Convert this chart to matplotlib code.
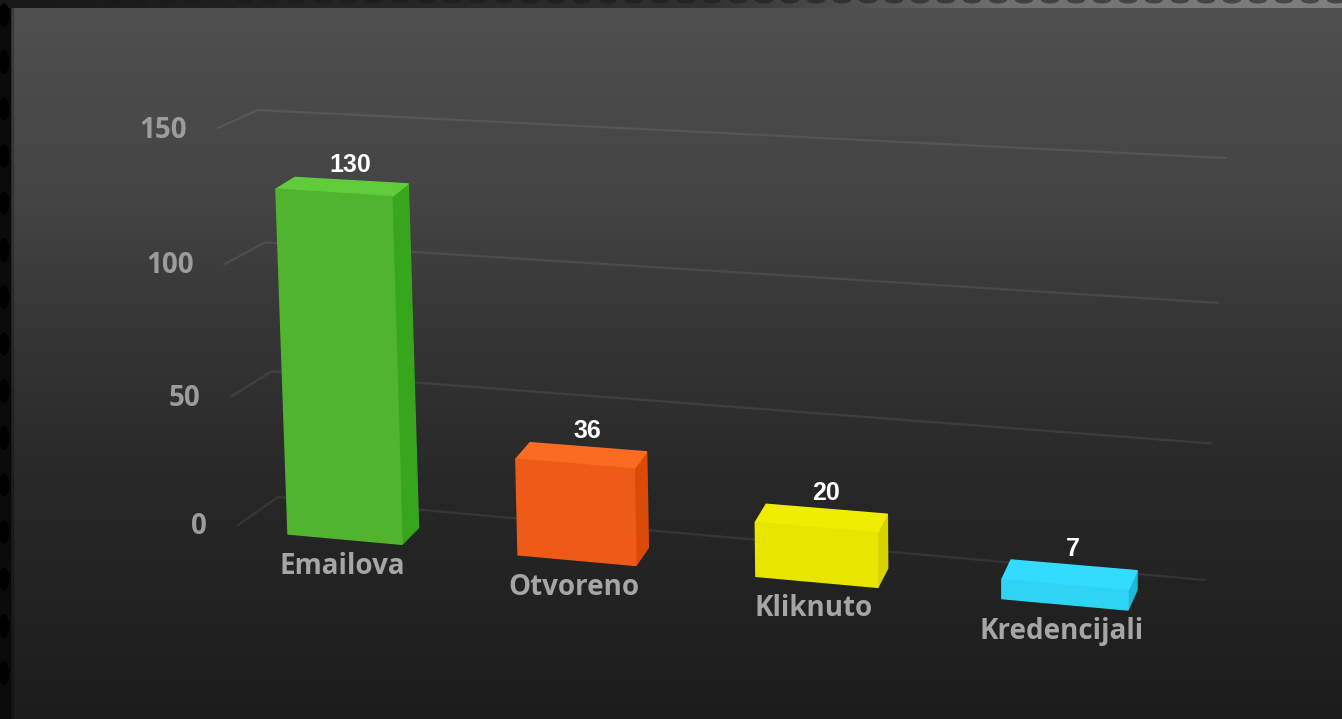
import numpy as np
import matplotlib
matplotlib.use("Agg")
import matplotlib.pyplot as plt
from matplotlib.patches import Polygon, Rectangle, Ellipse
from matplotlib.transforms import Transform

categories = ["Emailova", "Otvoreno", "Kliknuto", "Kredencijali"]
values = [130, 36, 20, 7]
ticks = [0, 50, 100, 150]

front_colors = ["#50b42e", "#ee5a18", "#e8e500", "#2fd4f4"]
top_colors = ["#60cc3c", "#fb6c20", "#f0ee00", "#33dcff"]
side_colors = ["#38a61c", "#dc4a08", "#d6d200", "#1cb9d8"]

W, H = 1342, 719
half_bar = 0.25
x_lo, x_hi = -0.75, 3.75
v_lo, v_hi = 0, 150


class Plane(Transform):
    """Perspective map from (category position, value) to pixels, fitted on four corners."""
    input_dims = 2
    output_dims = 2

    def __init__(self, x0, x1, p00, p10, p11, p01):
        super().__init__()
        src = [(x0, v_lo), (x1, v_lo), (x1, v_hi), (x0, v_hi)]
        dst = [p00, p10, p11, p01]
        A, b = [], []
        for (x, v), (px, py) in zip(src, dst):
            A.append([x, v, 1, 0, 0, 0, -px * x, -px * v])
            A.append([0, 0, 0, x, v, 1, -py * x, -py * v])
            b += [px, py]
        self.m = np.append(np.linalg.solve(np.array(A, float), np.array(b, float)), 1).reshape(3, 3)

    def transform_non_affine(self, values):
        pts = np.column_stack([values, np.ones(len(values))]) @ self.m.T
        return pts[:, :2] / pts[:, 2:]


# planes: the wall behind the bars, the front and back faces of the bars, the axis edge
wall = Plane(x_lo, x_hi, (278, 497), (1205, 580), (1225, 158), (258, 110))
axis_edge = Plane(x_lo, x_hi, (238, 525), (1165, 608), (1185, 186), (218, 128))
bar_front = Plane(-half_bar, 3 + half_bar, (288, 534), (1128, 610), (1131, 188), (274, 135))
bar_back = Plane(-half_bar, 3 + half_bar, (307, 518), (1137, 590), (1140, 168), (293, 124))

fig = plt.figure(figsize=(W / 100, H / 100), dpi=100)
ax = fig.add_axes([0, 0, 1, 1])
ax.set_xlim(0, W)
ax.set_ylim(H, 0)
ax.axis("off")

# background gradient
rows = np.arange(H)
shade = np.interp(rows, [0, 200, 350, 500, 719], [0x50, 0x44, 0x33, 0x27, 0x1c]) / 255
ax.imshow(np.repeat(shade[:, None], 3, axis=1)[:, None, :], extent=(0, W, H, 0),
          aspect="auto", zorder=0)

# frame strips along the left and top edges
ax.add_patch(Rectangle((0, 0), 10, H, color="#0b0b0b", zorder=1))
ax.add_patch(Rectangle((10, 8), 3, H, color="black", alpha=0.18, zorder=1))
for y in np.arange(15, H, 47):
    ax.add_patch(Ellipse((4, y), 9, 22, color="#000000", zorder=1.1))
top = np.interp(np.arange(W), [0, 700, 1000, W], [0x18, 0x30, 0x70, 0x80]) / 255
ax.imshow(np.repeat(top[None, :], 3, axis=0).T[None, :, :], extent=(0, W, 8, 0),
          aspect="auto", zorder=1)
for x in np.arange(10, W, 26):
    ax.add_patch(Ellipse((x, 0), 18, 7, color="#1a1a1a", alpha=0.55, lw=0, zorder=1.2))
ax.set_xlim(0, W)
ax.set_ylim(H, 0)

# grid lines on the wall with the short ticks going to the axis edge
for t in ticks:
    pts = np.vstack([axis_edge.transform([(x_lo, t)]), wall.transform([(x_lo, t), (x_hi, t)])])
    ax.plot(pts[:, 0], pts[:, 1], color="white", alpha=0.08, lw=1.6, zorder=2)
    lx, ly = axis_edge.transform([(x_lo, t)])[0]
    ax.text(lx - 31, ly + 2, str(t), color="#9c9c9c", fontsize=20, family="Open Sans",
            fontweight="bold", ha="right", va="center", zorder=5)

# bars
for i, v in enumerate(values):
    xa, xb = i - half_bar, i + half_bar
    fa0, fb0, fb1, fa1 = bar_front.transform([(xa, 0), (xb, 0), (xb, v), (xa, v)])
    ba0, bb0, bb1, ba1 = bar_back.transform([(xa, 0), (xb, 0), (xb, v), (xa, v)])
    ax.add_patch(Polygon([fb0, bb0, bb1, fb1], color=side_colors[i], zorder=3))
    ax.add_patch(Polygon([fa1, fb1, bb1, ba1], color=top_colors[i], zorder=3))
    ax.add_patch(Polygon([fa0, fb0, fb1, fa1], color=front_colors[i], zorder=3.1))

    cx, cy = (ba1 + bb1) / 2
    ax.text(cx - 1, cy - 16, str(v), color="white", fontsize=18, family="Liberation Sans",
            fontweight="bold", ha="center", va="center", zorder=5)
    cx, cy = (fa0 + fb0) / 2
    ax.text(cx - 3, cy + 27, categories[i], color="#a6a6a6", fontsize=20, family="Open Sans",
            fontweight="bold", ha="center", va="center", zorder=5)

fig.savefig("out.png", dpi=100)
